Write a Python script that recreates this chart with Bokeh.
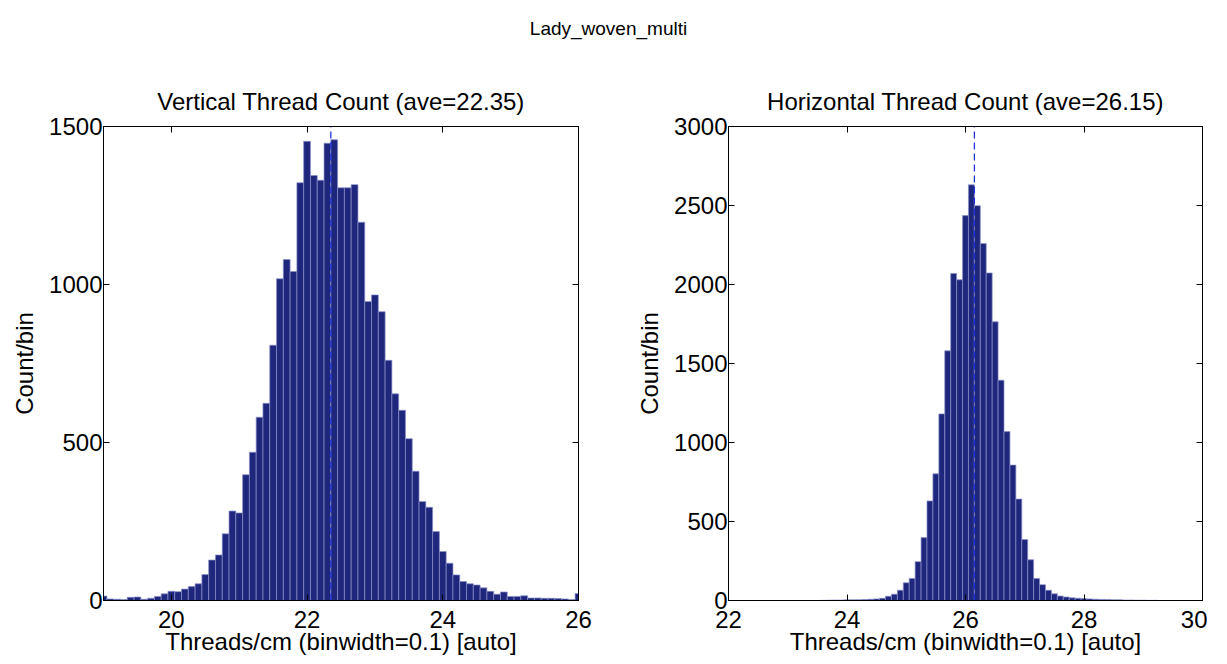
import numpy as np
from bokeh.plotting import figure
from bokeh.models import LinearAxis, FixedTicker, Div, Range1d
from bokeh.layouts import row, column
from bokeh.embed import file_html
from bokeh.resources import INLINE

suptitle = "Lady_woven_multi"
v_title = "Vertical Thread Count (ave=22.35)"
h_title = "Horizontal Thread Count (ave=26.15)"
x_label = "Threads/cm (binwidth=0.1) [auto]"
y_label = "Count/bin"
binwidth = 0.1

# Vertical thread count histogram (bin centres 19.0 .. 26.0)
v_start = 19.0
v_counts = [14, 5, 4, 3, 10, 11, 4, 7, 13, 21,
            29, 28, 36, 44, 53, 82, 128, 144, 211, 283,
            277, 398, 469, 580, 624, 808, 1018, 1079, 1041, 1322,
            1453, 1345, 1330, 1447, 1458, 1306, 1306, 1316, 1197, 946,
            967, 914, 760, 654, 602, 512, 409, 313, 295, 218,
            155, 118, 81, 60, 53, 49, 40, 29, 20, 27,
            13, 13, 15, 8, 8, 7, 7, 6, 5, 3,
            22]
v_mean = 22.35
v_xrange = (19, 26)
v_yrange = (0, 1500)
v_xticks = [20, 22, 24, 26]
v_yticks = [0, 500, 1000, 1500]

# Horizontal thread count histogram (bin centres 22.0 .. 30.0)
h_start = 22.0
h_counts = [0, 0, 0, 0, 0, 0, 0, 0, 0, 0,
            0, 0, 0, 0, 0, 0, 1, 2, 3, 3,
            4, 4, 5, 6, 8, 10, 14, 27, 40, 65,
            112, 140, 246, 398, 630, 802, 1181, 1580, 2070, 2030,
            2436, 2631, 2499, 2259, 2073, 1764, 1394, 1069, 857, 642,
            386, 258, 140, 100, 65, 42, 28, 22, 17, 14,
            12, 10, 8, 7, 6, 5, 4, 3, 3, 2,
            2, 1, 1, 0, 0, 0, 0, 0, 0, 0,
            0]
h_mean = 26.15
h_xrange = (22, 30)
h_yrange = (0, 3000)
h_xticks = [22, 24, 26, 28, 30]
h_yticks = [0, 500, 1000, 1500, 2000, 2500, 3000]

FONT = "Liberation Sans"
BAR_FILL = "#1f277c"
BAR_LINE = "#8a8fc8"
MEAN_COLOR = "#1f33d8"


def style_axis(ax, ticks, standoff=0, show_labels=True):
    ax.ticker = FixedTicker(ticks=ticks)
    ax.major_tick_in = 6
    ax.major_tick_out = 0
    ax.minor_tick_line_color = None
    ax.axis_line_color = "black"
    ax.major_tick_line_color = "black"
    ax.major_label_text_font = FONT
    if show_labels:
        ax.major_label_text_color = "black"
        ax.major_label_text_font_size = "24px"
        ax.major_label_standoff = standoff
    else:
        ax.major_label_text_color = None
        ax.major_label_text_font_size = "1px"
        ax.major_label_standoff = 0


def make_panel(title, start, counts, mean, xr, yr, xticks, yticks, width, bl, br):
    centers = [round(start + binwidth * i, 2) for i in range(len(counts))]
    p = figure(width=width, height=595, output_backend="svg", toolbar_location=None,
               x_range=Range1d(*xr), y_range=Range1d(*yr),
               min_border_left=bl, min_border_right=br,
               min_border_top=64, min_border_bottom=56)
    p.title.text = title
    p.title.align = "center"
    p.title.text_font = FONT
    p.title.text_font_size = "24px"
    p.title.text_font_style = "normal"
    p.title.text_color = "black"
    p.title.standoff = 23
    p.xgrid.visible = False
    p.ygrid.visible = False
    p.outline_line_color = "black"
    p.outline_line_width = 1
    p.background_fill_color = "white"
    p.border_fill_color = "white"

    p.vbar(x=centers, width=binwidth, top=counts, bottom=0,
           fill_color=BAR_FILL, line_color=BAR_LINE, line_width=0.7)
    p.line([mean, mean], [yr[0], yr[1]], line_color=MEAN_COLOR, line_width=1.3,
           line_dash="7 4")

    style_axis(p.xaxis[0], xticks, standoff=10)
    style_axis(p.yaxis[0], yticks, standoff=1)
    p.xaxis[0].axis_label = x_label
    p.yaxis[0].axis_label = y_label
    for ax in (p.xaxis[0], p.yaxis[0]):
        ax.axis_label_text_font = FONT
        ax.axis_label_text_font_size = "24px"
        ax.axis_label_text_font_style = "normal"
        ax.axis_label_text_color = "black"
    p.xaxis[0].axis_label_standoff = -3
    p.yaxis[0].axis_label_standoff = 8

    top_ax = LinearAxis()
    style_axis(top_ax, xticks, show_labels=False)
    p.add_layout(top_ax, "above")
    right_ax = LinearAxis()
    style_axis(right_ax, yticks, show_labels=False)
    p.add_layout(right_ax, "right")
    return p


p1 = make_panel(v_title, v_start, v_counts, v_mean, v_xrange, v_yrange,
                v_xticks, v_yticks, width=625, bl=103, br=47)
p2 = make_panel(h_title, h_start, h_counts, h_mean, h_xrange, h_yrange,
                h_xticks, h_yticks, width=582, bl=103, br=5)

head = Div(text=('<div style="font-family: \'Liberation Sans\'; font-size: 19px; '
                 'text-align: center; padding-top: 10px; padding-left: 10px; '
                 'color: black; width: 1197px;">'
                 + suptitle + '</div>'),
           width=1207, height=52)

layout = column(head, row(p1, p2, spacing=0), spacing=0)

open("out.html", "w").write(file_html(layout, INLINE))
